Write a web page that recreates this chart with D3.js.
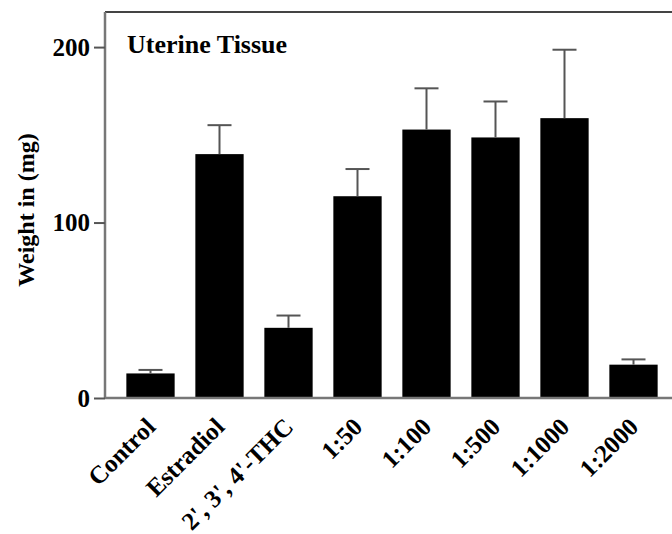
<!DOCTYPE html>
<html>
<head>
<meta charset="utf-8">
<script src="https://cdn.jsdelivr.net/npm/d3@7"></script>
<style>
  body { margin: 0; background: #fff; }
  text { font-family: "Liberation Serif", "Times New Roman", serif; font-weight: bold; }
</style>
</head>
<body>
<div id="chart"></div>
<script>
const categories = ["Control", "Estradiol", "2', 3', 4'-THC", "1:50", "1:100", "1:500", "1:1000", "1:2000"];
const means = [14, 139, 40, 115, 153, 148.5, 159.5, 19];
const errors = [2, 16.5, 7, 15.5, 23.5, 20.5, 39, 3];
const yTicks = [0, 100, 200];

const W = 672, H = 534;
const svg = d3.select("#chart").append("svg")
    .attr("width", W).attr("height", H);

const x = d3.scaleBand()
    .domain(categories)
    .range([116, 668])
    .paddingInner(0.3)
    .paddingOuter(0.15);

const y = d3.scaleLinear()
    .domain([0, 220])
    .range([398, 12]);

// top border of the frame
svg.append("line")
    .attr("x1", 105).attr("x2", W)
    .attr("y1", y(220)).attr("y2", y(220))
    .attr("stroke", "#444").attr("stroke-width", 2);

// bars
svg.append("g").selectAll("rect")
    .data(categories)
    .enter()
    .append("rect")
    .attr("x", d => x(d))
    .attr("width", x.bandwidth())
    .attr("y", (d, i) => y(means[i]))
    .attr("height", (d, i) => y(0) - y(means[i]))
    .attr("fill", "#000");

// error bars (upper only)
const err = svg.append("g").attr("stroke", "#555").attr("stroke-width", 2);
categories.forEach((c, i) => {
    const cx = x(c) + x.bandwidth() / 2;
    err.append("line")
        .attr("x1", cx).attr("x2", cx)
        .attr("y1", y(means[i])).attr("y2", y(means[i] + errors[i]));
    err.append("line")
        .attr("x1", cx - 12).attr("x2", cx + 12)
        .attr("y1", y(means[i] + errors[i])).attr("y2", y(means[i] + errors[i]));
});

// y axis
const yAxis = svg.append("g")
    .attr("transform", "translate(105,0)")
    .call(d3.axisLeft(y).tickValues(yTicks).tickSize(11).tickPadding(4));
yAxis.select(".domain").attr("stroke", "#777").attr("stroke-width", 2.5)
    .attr("d", "M0," + y(0) + "V" + y(220));
yAxis.selectAll(".tick line").attr("stroke", "#555").attr("stroke-width", 2);
yAxis.selectAll(".tick text")
    .attr("fill", "#000")
    .style("font-size", "25px")
    .style("font-family", "'Liberation Serif', serif")
    .style("font-weight", "bold");

// x axis line
svg.append("line")
    .attr("x1", 105).attr("x2", W)
    .attr("y1", y(0)).attr("y2", y(0))
    .attr("stroke", "#777").attr("stroke-width", 2.5);

// category labels
svg.append("g").selectAll("text")
    .data(categories)
    .enter()
    .append("text")
    .attr("transform", d => "translate(" + (x(d) + x.bandwidth() / 2 - 6) + ",416) rotate(-45)")
    .attr("text-anchor", "end")
    .attr("dy", "0.7em")
    .style("font-size", "25px")
    .text(d => d);

// y axis title
svg.append("text")
    .attr("transform", "translate(26,210) rotate(-90)")
    .attr("text-anchor", "middle")
    .attr("dy", "0.35em")
    .style("font-size", "24px")
    .text("Weight in (mg)");

// panel title
svg.append("text")
    .attr("x", 127).attr("y", 53)
    .style("font-size", "26px")
    .text("Uterine Tissue");
</script>
</body>
</html>
